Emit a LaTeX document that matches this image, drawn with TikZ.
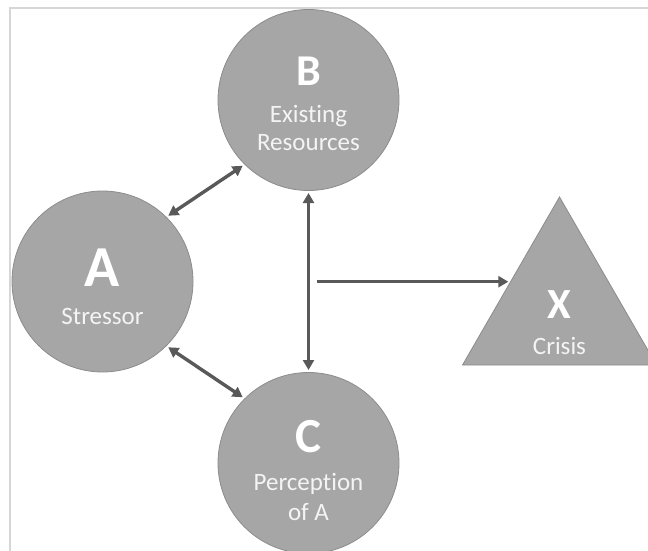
\documentclass[tikz,border=0pt]{standalone}
\usepackage{fontspec}
\setmainfont{Carlito}[Ligatures={NoCommon}]
\usetikzlibrary{arrows.meta,shapes.geometric}
\definecolor{discfill}{HTML}{A6A6A6}
\definecolor{discline}{HTML}{8C8C8C}
\definecolor{linkgray}{HTML}{595959}
\definecolor{framegray}{HTML}{D6D6D6}
\definecolor{captiontext}{HTML}{F4F4F4}
\begin{document}
\begin{tikzpicture}[x=1pt,y=-1pt,
  disc/.style={circle, fill=discfill, draw=discline, line width=0.8pt,
    minimum size=181pt, inner sep=0pt, outer sep=2.5pt},
  tri/.style={regular polygon, regular polygon sides=3, fill=discfill,
    draw=discline, line width=0.8pt, minimum size=224pt, inner sep=0pt,
    outer sep=2.5pt},
  letter/.style={anchor=base, text=white, inner sep=0pt,
    font=\bfseries\fontsize{#1}{#1}\selectfont},
  caption/.style={anchor=base, text=captiontext, inner sep=0pt,
    font=\fontsize{25}{30}\selectfont},
  link/.style={draw=linkgray, line width=3.4pt, {Triangle[length=10pt,width=11pt]}-{Triangle[length=10pt,width=11pt]}},
  push/.style={draw=linkgray, line width=3.4pt, -{Triangle[length=10pt,width=11pt]}}
]
\useasboundingbox (0,0) rectangle (648,551);
\clip (0,0) rectangle (648,551);

% outer frame
\draw[framegray, line width=2pt] (10,8) rectangle (700,600);

% the four elements
\node[disc] (B) at (308.5,100) {};
\node[disc] (A) at (102.5,281.5) {};
\node[disc] (C) at (308.5,463) {};
\node[tri]  (X) at (559.5,309) {};

% connectors
\draw[link] (A.45) -- (B.225);
\draw[link] (A.-45) -- (C.135);
\draw[link] (B.south) -- (C.north);
\coordinate (hub) at (316.5,281.7);
\draw[push] (hub) -- (hub -| X.151);

% labels
\node[letter=44] (Bkey) at (308.5,85) {B};
\node[caption] (Bline1) at (308.5,122) {Existing};
\node[caption] (Bline2) at (308.5,150) {Resources};

\node[letter=58] (Akey) at (102.5,286) {A};
\node[caption] (Aline) at (102.5,324) {Stressor};

\node[letter=49] (Ckey) at (308.5,452) {C};
\node[caption] (Cline1) at (308.5,490) {Perception};
\node[caption] (Cline2) at (308.5,520) {of A};

\node[letter=43] (Xkey) at (559.5,318) {X};
\node[caption] (Xline) at (559.5,354) {Crisis};
\end{tikzpicture}
\end{document}
